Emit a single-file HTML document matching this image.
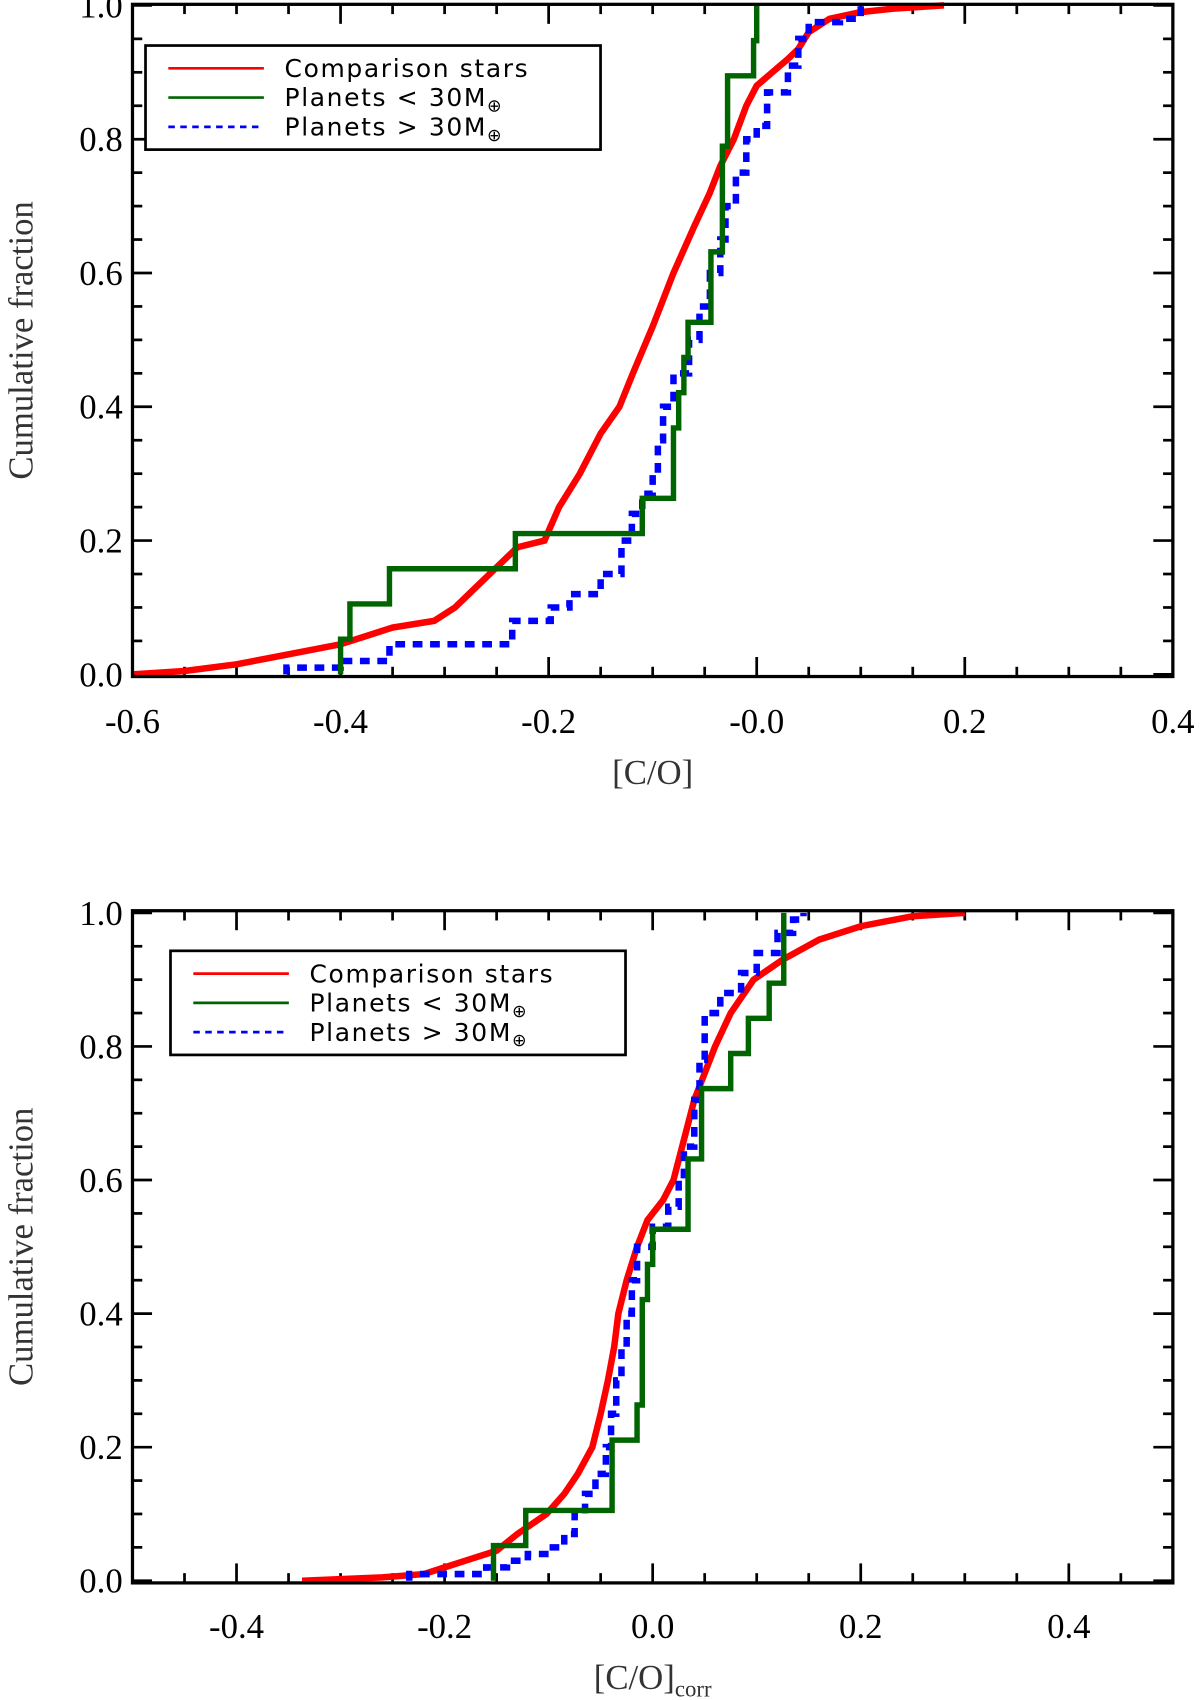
<!DOCTYPE html>
<html><head><meta charset="utf-8"><style>
html,body{margin:0;padding:0;background:#fff;}
svg{display:block;}
.tick{font-family:"Liberation Serif",serif;font-size:32px;fill:#000;}
.lab{font-family:"Liberation Serif",serif;font-size:32px;fill:#333;}
.leg{font-family:"DejaVu Sans","Liberation Sans",sans-serif;font-size:23px;fill:#000;letter-spacing:1.5px;}
</style></head><body>
<svg id="fig" width="1200" height="1700" viewBox="0 0 1105 1568" preserveAspectRatio="none" xmlns="http://www.w3.org/2000/svg"></svg>
<script>
// ---- Top panel data ----
const topRedX=[-0.6,-0.55,-0.5,-0.45,-0.40,-0.37,-0.35,-0.31,-0.29,-0.27,-0.25,-0.23,-0.204,-0.19,-0.17,-0.15,-0.132,-0.119,-0.10,-0.08,-0.06,-0.045,-0.035,-0.022,-0.01,0.0,0.015,0.03,0.04,0.05,0.07,0.1,0.13,0.18];
const topRedY=[0.0,0.005,0.015,0.03,0.045,0.06,0.07,0.08,0.10,0.13,0.16,0.19,0.20,0.25,0.30,0.36,0.40,0.45,0.52,0.60,0.67,0.72,0.76,0.80,0.85,0.88,0.90,0.92,0.935,0.96,0.98,0.99,0.995,1.0];
const topGreen=[-0.40,-0.391,-0.353,-0.232,-0.11,-0.08,-0.08,-0.075,-0.07,-0.066,-0.044,-0.044,-0.033,-0.033,-0.033,-0.028,-0.028,-0.003,0.0];
const topBlueX=[-0.452,-0.40,-0.353,-0.235,-0.198,-0.18,-0.15,-0.13,-0.12,-0.11,-0.10,-0.095,-0.09,-0.08,-0.065,-0.055,-0.045,-0.035,-0.03,-0.02,-0.01,0.0,0.01,0.03,0.04,0.05,0.08,0.1];
const topBlueY=[0.01,0.02,0.045,0.08,0.10,0.12,0.15,0.20,0.24,0.27,0.30,0.35,0.40,0.45,0.50,0.55,0.60,0.65,0.70,0.75,0.80,0.82,0.87,0.91,0.95,0.975,0.98,1.0];
const topXTicks=["-0.6","-0.4","-0.2","-0.0","0.2","0.4"];
const topXTickVals=[-0.6,-0.4,-0.2,0.0,0.2,0.4];
// ---- Bottom panel data ----
const botRedX=[-0.337,-0.26,-0.22,-0.2,-0.18,-0.15,-0.13,-0.102,-0.085,-0.072,-0.058,-0.05,-0.043,-0.037,-0.033,-0.025,-0.015,-0.005,0.01,0.02,0.03,0.04,0.05,0.06,0.075,0.097,0.125,0.16,0.2,0.25,0.3];
const botRedY=[0.0,0.005,0.01,0.02,0.03,0.045,0.07,0.10,0.13,0.16,0.20,0.25,0.30,0.35,0.40,0.45,0.50,0.54,0.57,0.60,0.66,0.72,0.76,0.80,0.85,0.90,0.93,0.96,0.98,0.995,1.0];
const botGreen=[-0.153,-0.122,-0.039,-0.039,-0.015,-0.01,-0.01,-0.01,-0.005,0.0,0.034,0.034,0.047,0.047,0.075,0.092,0.112,0.126,0.126];
const botBlueX=[-0.234,-0.16,-0.14,-0.12,-0.1,-0.085,-0.075,-0.065,-0.055,-0.045,-0.04,-0.035,-0.03,-0.025,-0.02,-0.015,0.0,0.015,0.025,0.03,0.04,0.045,0.05,0.065,0.085,0.1,0.12,0.135,0.145];
const botBlueY=[0.01,0.02,0.03,0.04,0.05,0.07,0.10,0.13,0.16,0.20,0.25,0.30,0.35,0.40,0.45,0.50,0.53,0.56,0.60,0.65,0.72,0.78,0.85,0.88,0.91,0.94,0.97,0.99,1.0];
const botXTicks=["-0.4","-0.2","0.0","0.2","0.4"];
const botXTickVals=[-0.4,-0.2,0.0,0.2,0.4];
const yTicks=["0.0","0.2","0.4","0.6","0.8","1.0"];
const yTickVals=[0,0.2,0.4,0.6,0.8,1.0];

const NS="http://www.w3.org/2000/svg";
const svg=document.getElementById('fig');
function mk(tag,attrs,parent){const e=document.createElementNS(NS,tag);for(const k in attrs)e.setAttribute(k,attrs[k]);(parent||svg).appendChild(e);return e;}

function panel(cfg){
  const g=mk('g',{});
  
  
  const L=122,R=1080,T=cfg.top,B=cfg.bottom;
  const xs=v=>L+(v-cfg.xmin)/(cfg.xmax-cfg.xmin)*(R-L);
  const ys=v=>cfg.y0-v*(cfg.y0-cfg.y1);
  const tg=mk('g',{stroke:'#000','stroke-width':2.5},g);
  for(let v=cfg.xmin;v<=cfg.xmax+1e-9;v+=0.05){
    const major=Math.abs(Math.round(v*5)-v*5)<1e-6;
    const len=major?18:9;const x=xs(v);
    mk('line',{x1:x,x2:x,y1:B,y2:B-len},tg);mk('line',{x1:x,x2:x,y1:T,y2:T+len},tg);
  }
  for(let i=0;i<=20;i++){
    const v=i*0.05;const major=i%4===0;const len=major?18:9;const y=ys(v);
    mk('line',{x1:L,x2:L+len,y1:y,y2:y},tg);mk('line',{x1:R,x2:R-len,y1:y,y2:y},tg);
  }
  function stepPath(X,Y,start){
    let d='M'+xs(X[0])+','+ys(start);
    for(let i=0;i<X.length;i++){d+=' L'+xs(X[i])+','+ys(i?Y[i-1]:start);d+=' L'+xs(X[i])+','+ys(Y[i]);}
    return d;
  }
  function linePath(X,Y){
    let d='';
    for(let i=0;i<X.length;i++){d+=(i?' L':'M')+xs(X[i])+','+ys(Y[i]);}
    return d;
  }
  const gy=cfg.green.map((_,i)=>(i+1)/cfg.green.length);
  const rp=mk('path',{d:linePath(cfg.redX,cfg.redY),fill:'none',stroke:'#ff0000','stroke-width':6,'stroke-linejoin':'miter'},g);
  
  
  const bp=mk('path',{d:stepPath(cfg.blueX,cfg.blueY,0),fill:'none',stroke:'#0000ff','stroke-width':6,'stroke-dasharray':'9,7'},g);
  
  
  const gp=mk('path',{d:stepPath(cfg.green,gy,0),fill:'none',stroke:'#006400','stroke-width':5},g);
  
  
  const fr=mk('rect',{x:L,y:T,width:R-L,height:B-T,fill:'none',stroke:'#000','stroke-width':3},g);
  
  
  cfg.xTickVals.forEach((v,i)=>{const t=mk('text',{x:xs(v),y:cfg.xLabY,'text-anchor':'middle',class:'tick'},g);t.textContent=cfg.xTicks[i];
    
    });
  yTickVals.forEach((v,i)=>{const t=mk('text',{x:113,y:ys(v)+11,'text-anchor':'end',class:'tick'},g);t.textContent=yTicks[i];
    
    });
  const yt=mk('text',{x:0,y:0,transform:`translate(30,${(T+B)/2}) rotate(-90)`,'text-anchor':'middle',class:'lab'},g);
  yt.textContent='Cumulative fraction';
  
  
  const xt=mk('text',{x:601,y:cfg.titleY,'text-anchor':'middle',class:'lab'},g);
  xt.innerHTML=cfg.title;
  
  
  const lg=mk('g',{},g);
  
  
  const lx=cfg.leg[0],ly=cfg.leg[1];
  mk('rect',{x:lx,y:ly,width:419,height:96,fill:'#fff',stroke:'#000','stroke-width':2.5},lg);
  const items=[['#ff0000','','Comparison stars'],['#006400','','Planets &lt; 30M<tspan font-size="16" dy="5">⊕</tspan>'],['#0000ff','6,5','Planets &gt; 30M<tspan font-size="16" dy="5">⊕</tspan>']];
  items.forEach((it,i)=>{
    const y=ly+21+i*27;
    const e=mk('g',{},lg);
    
    
    mk('line',{x1:lx+21,x2:lx+109,y1:y,y2:y,stroke:it[0],'stroke-width':2.5,'stroke-dasharray':it[1]||'none'},e);
    const t=mk('text',{x:lx+128,y:y+8,class:'leg'},e);t.innerHTML=it[2];
  });
}
panel({name:'top-panel',top:4,bottom:624,y0:622,y1:5,xmin:-0.6,xmax:0.4,redX:topRedX,redY:topRedY,green:topGreen,blueX:topBlueX,blueY:topBlueY,xTicks:topXTicks,xTickVals:topXTickVals,xLabY:676,titleY:723,title:'[C/O]',leg:[134,42]});
panel({name:'bottom-panel',top:840,bottom:1460,y0:1458,y1:842,xmin:-0.5,xmax:0.5,redX:botRedX,redY:botRedY,green:botGreen,blueX:botBlueX,blueY:botBlueY,xTicks:botXTicks,xTickVals:botXTickVals,xLabY:1511,titleY:1558,title:'[C/O]<tspan font-size="21" dy="7">corr</tspan>',leg:[157,877]});
</script>
</body></html>
